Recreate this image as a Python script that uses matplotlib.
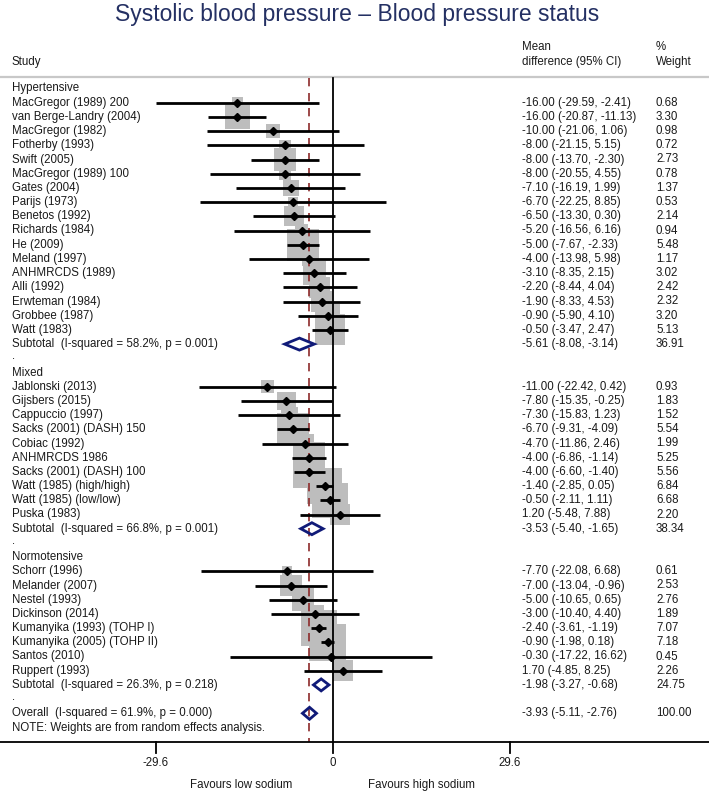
import matplotlib
matplotlib.use("Agg")
import matplotlib.pyplot as plt
from matplotlib.patches import Rectangle, Polygon

plt.rcParams['font.family'] = ['Liberation Sans', 'DejaVu Sans']

title = "Systolic blood pressure \u2013 Blood pressure status"

groups = ["Hypertensive", "Mixed", "Normotensive"]

hyp_studies = ["MacGregor (1989) 200", "van Berge-Landry (2004)", "MacGregor (1982)",
               "Fotherby (1993)", "Swift (2005)", "MacGregor (1989) 100", "Gates (2004)",
               "Parijs (1973)", "Benetos (1992)", "Richards (1984)", "He (2009)",
               "Meland (1997)", "ANHMRCDS (1989)", "Alli (1992)", "Erwteman (1984)",
               "Grobbee (1987)", "Watt (1983)"]
hyp_est = [-16.00, -16.00, -10.00, -8.00, -8.00, -8.00, -7.10, -6.70, -6.50, -5.20,
           -5.00, -4.00, -3.10, -2.20, -1.90, -0.90, -0.50]
hyp_lo = [-29.59, -20.87, -21.06, -21.15, -13.70, -20.55, -16.19, -22.25, -13.30,
          -16.56, -7.67, -13.98, -8.35, -8.44, -8.33, -5.90, -3.47]
hyp_hi = [-2.41, -11.13, 1.06, 5.15, -2.30, 4.55, 1.99, 8.85, 0.30, 6.16, -2.33,
          5.98, 2.15, 4.04, 4.53, 4.10, 2.47]
hyp_w = [0.68, 3.30, 0.98, 0.72, 2.73, 0.78, 1.37, 0.53, 2.14, 0.94, 5.48, 1.17,
         3.02, 2.42, 2.32, 3.20, 5.13]

mix_studies = ["Jablonski (2013)", "Gijsbers (2015)", "Cappuccio (1997)",
               "Sacks (2001) (DASH) 150", "Cobiac (1992)", "ANHMRCDS 1986",
               "Sacks (2001) (DASH) 100", "Watt (1985) (high/high)",
               "Watt (1985) (low/low)", "Puska (1983)"]
mix_est = [-11.00, -7.80, -7.30, -6.70, -4.70, -4.00, -4.00, -1.40, -0.50, 1.20]
mix_lo = [-22.42, -15.35, -15.83, -9.31, -11.86, -6.86, -6.60, -2.85, -2.11, -5.48]
mix_hi = [0.42, -0.25, 1.23, -4.09, 2.46, -1.14, -1.40, 0.05, 1.11, 7.88]
mix_w = [0.93, 1.83, 1.52, 5.54, 1.99, 5.25, 5.56, 6.84, 6.68, 2.20]

nor_studies = ["Schorr (1996)", "Melander (2007)", "Nestel (1993)", "Dickinson (2014)",
               "Kumanyika (1993) (TOHP I)", "Kumanyika (2005) (TOHP II)",
               "Santos (2010)", "Ruppert (1993)"]
nor_est = [-7.70, -7.00, -5.00, -3.00, -2.40, -0.90, -0.30, 1.70]
nor_lo = [-22.08, -13.04, -10.65, -10.40, -3.61, -1.98, -17.22, -4.85]
nor_hi = [6.68, -0.96, 0.65, 4.40, -1.19, 0.18, 16.62, 8.25]
nor_w = [0.61, 2.53, 2.76, 1.89, 7.07, 7.18, 0.45, 2.26]

sub_est = [-5.61, -3.53, -1.98]
sub_lo = [-8.08, -5.40, -3.27]
sub_hi = [-3.14, -1.65, -0.68]
sub_w = [36.91, 38.34, 24.75]
sub_i2 = ["58.2%", "66.8%", "26.3%"]
sub_p = ["0.001", "0.001", "0.218"]

overall = (-3.93, -5.11, -2.76, 100.00, "61.9%", "0.000")
xticks = [-29.6, 0, 29.6]

# ---- layout (pixel geometry) ----
W, H = 709, 794
X0PX, XSCALE = 333.0, 5.98       # pixel of x=0, px per unit
Y0PX, YSTEP = 88.5, 14.2         # pixel of row 0, px per row

fig = plt.figure(figsize=(W / 100, H / 100), dpi=100)
ax = fig.add_axes([0, 0, 1, 1])
ax.set_xlim(-X0PX / XSCALE, (W - X0PX) / XSCALE)
ax.set_ylim((H - Y0PX) / YSTEP, -Y0PX / YSTEP)
ax.axis('off')

def px_x(p):
    return (p - X0PX) / XSCALE

def px_y(p):
    return (p - Y0PX) / YSTEP

TXT = '#1a1a1a'
FS = 8.3
x_lab = px_x(12)
x_ci = px_x(522)
x_wt = px_x(656)

# title
ax.text(px_x(357), px_y(15), title, ha='center', va='center', fontsize=16.5,
        color='#243063')

# headers
ax.text(x_lab, px_y(62), "Study", ha='left', va='center', fontsize=FS, color=TXT)
ax.text(x_ci, px_y(47), "Mean", ha='left', va='center', fontsize=FS, color=TXT)
ax.text(x_ci, px_y(62), "difference (95% CI)", ha='left', va='center', fontsize=FS, color=TXT)
ax.text(x_wt, px_y(47), "%", ha='left', va='center', fontsize=FS, color=TXT)
ax.text(x_wt, px_y(62), "Weight", ha='left', va='center', fontsize=FS, color=TXT)
ax.plot([px_x(0), px_x(W)], [px_y(77), px_y(77)], color='#c8c8c8', lw=1.6,
        solid_capstyle='butt')

BOXK = 13.6  # px per sqrt(weight)
r = 0
all_groups = [(hyp_studies, hyp_est, hyp_lo, hyp_hi, hyp_w),
              (mix_studies, mix_est, mix_lo, mix_hi, mix_w),
              (nor_studies, nor_est, nor_lo, nor_hi, nor_w)]

study_rows = []
sub_rows = []
for gi, (names, est, lo, hi, w) in enumerate(all_groups):
    ax.text(x_lab, r, groups[gi], ha='left', va='center', fontsize=FS, color=TXT)
    r += 1
    for i in range(len(names)):
        study_rows.append((r, names[i], est[i], lo[i], hi[i], w[i]))
        r += 1
    sub_rows.append((r, gi))
    r += 1
    ax.text(x_lab, r - 0.15, ".", ha='left', va='center', fontsize=FS, color=TXT)
    r += 1
overall_row = r
note_row = r + 1
axis_row = r + 2

# grey boxes
for (rr, name, e, l, h, w) in study_rows:
    side = BOXK * w ** 0.5
    bw = side / XSCALE
    bh = side / YSTEP
    ax.add_patch(Rectangle((e - bw / 2, rr - bh / 2), bw, bh, facecolor='#bdbdbd',
                           edgecolor='none', zorder=1))

# reference lines
top = px_y(78)
ax.plot([0, 0], [top, axis_row], color='black', lw=1.3, zorder=2)
ax.plot([overall[0], overall[0]], [top, axis_row], color='#8c2a2a', lw=1.2,
        dashes=(5, 4), zorder=2)

# CIs and points
for (rr, name, e, l, h, w) in study_rows:
    ax.plot([l, h], [rr, rr], color='black', lw=2.0, solid_capstyle='butt', zorder=3)
    ax.plot([e], [rr], marker='D', ms=3.8, color='black', zorder=4)
    ax.text(x_lab, rr, name, ha='left', va='center', fontsize=FS, color=TXT)
    ax.text(x_ci, rr, f"{e:.2f} ({l:.2f}, {h:.2f})", ha='left', va='center',
            fontsize=FS, color=TXT)
    ax.text(x_wt, rr, f"{w:.2f}", ha='left', va='center', fontsize=FS, color=TXT)

DH = 6.0 / YSTEP

def diamond(rr, e, l, h):
    ax.add_patch(Polygon([(l, rr), (e, rr - DH), (h, rr), (e, rr + DH)], closed=True,
                         facecolor='none', edgecolor='#101a78', lw=2.0, zorder=5,
                         joinstyle='miter'))

for (rr, gi) in sub_rows:
    diamond(rr, sub_est[gi], sub_lo[gi], sub_hi[gi])
    ax.text(x_lab, rr, f"Subtotal  (I-squared = {sub_i2[gi]}, p = {sub_p[gi]})",
            ha='left', va='center', fontsize=FS, color=TXT)
    ax.text(x_ci, rr, f"{sub_est[gi]:.2f} ({sub_lo[gi]:.2f}, {sub_hi[gi]:.2f})",
            ha='left', va='center', fontsize=FS, color=TXT)
    ax.text(x_wt, rr, f"{sub_w[gi]:.2f}", ha='left', va='center', fontsize=FS, color=TXT)

oe, ol, oh, ow, oi2, op = overall
diamond(overall_row, oe, ol, oh)
ax.text(x_lab, overall_row, f"Overall  (I-squared = {oi2}, p = {op})", ha='left',
        va='center', fontsize=FS, color=TXT)
ax.text(x_ci, overall_row, f"{oe:.2f} ({ol:.2f}, {oh:.2f})", ha='left', va='center',
        fontsize=FS, color=TXT)
ax.text(x_wt, overall_row, f"{ow:.2f}", ha='left', va='center', fontsize=FS, color=TXT)
ax.text(x_lab, note_row, "NOTE: Weights are from random effects analysis.", ha='left',
        va='center', fontsize=FS, color=TXT)

# bottom axis
ax.plot([px_x(0), px_x(W)], [axis_row, axis_row], color='black', lw=1.3, zorder=2)
tick_len = 11 / YSTEP
for t in xticks:
    ax.plot([t, t], [axis_row, axis_row + tick_len], color='black', lw=1.3)
    lab = "0" if t == 0 else f"{t:.1f}"
    ax.text(t, px_y(763), lab, ha='center', va='center', fontsize=FS, color=TXT)
ax.text(px_x(241), px_y(785), "Favours low sodium", ha='center', va='center',
        fontsize=FS, color=TXT)
ax.text(px_x(421), px_y(785), "Favours high sodium", ha='center', va='center',
        fontsize=FS, color=TXT)

fig.savefig("out.png", dpi=100)
